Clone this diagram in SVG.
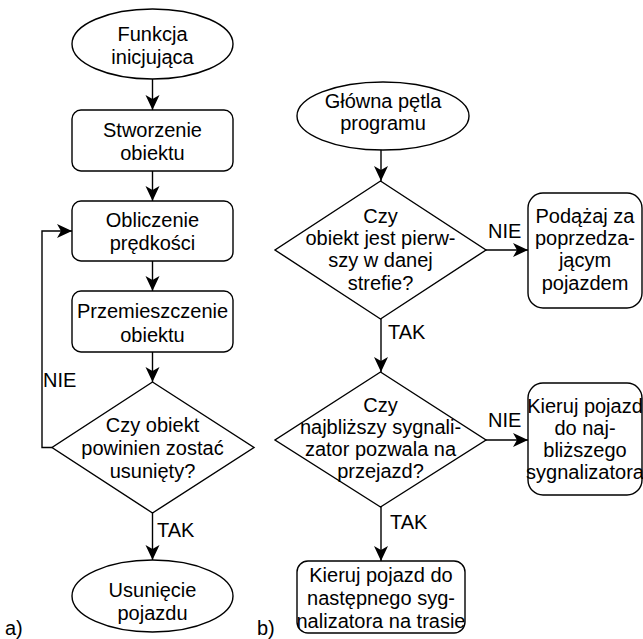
<svg xmlns="http://www.w3.org/2000/svg" width="643" height="639" viewBox="0 0 643 639">
<defs>
<style>
.s{fill:#fff;stroke:#000;stroke-width:1.4}
.c{fill:none;stroke:#000;stroke-width:1.4}
text{font-family:"Liberation Sans",Arial,sans-serif;font-size:20px;fill:#000}
.m{text-anchor:middle}
</style>
<marker id="a" markerUnits="userSpaceOnUse" markerWidth="16" markerHeight="16" refX="15" refY="7" orient="auto" viewBox="0 0 16 14">
<path d="M0,0 L15,7 L0,14 L4,7 Z" fill="#000"/>
</marker>
</defs>
<rect width="643" height="639" fill="#fff"/>
<g id="connectors">
<path class="c" d="M152.5,79 V110" marker-end="url(#a)"/>
<path class="c" d="M152.5,171 V201" marker-end="url(#a)"/>
<path class="c" d="M152.5,261 V291" marker-end="url(#a)"/>
<path class="c" d="M152.5,352 V382" marker-end="url(#a)"/>
<path class="c" d="M152.5,513 V560" marker-end="url(#a)"/>
<path class="c" d="M52,447.5 H42 V231 H72" marker-end="url(#a)"/>
<path class="c" d="M381,150 V181" marker-end="url(#a)"/>
<path class="c" d="M486,250 H528" marker-end="url(#a)"/>
<path class="c" d="M381,319 V372" marker-end="url(#a)"/>
<path class="c" d="M486,440 H528" marker-end="url(#a)"/>
<path class="c" d="M381,507 V561" marker-end="url(#a)"/>
<text x="43" y="387">NIE</text>
<text x="157" y="537">TAK</text>
<text x="488" y="238">NIE</text>
<text x="388" y="339">TAK</text>
<text x="488" y="427">NIE</text>
<text x="390" y="529">TAK</text>
</g>
<g id="start_a">
<ellipse class="s" cx="152.5" cy="44" rx="80.5" ry="35"/>
<text class="m" x="152.5" y="41">Funkcja</text>
<text class="m" x="152.5" y="64">inicjująca</text>
</g>
<g id="create">
<rect class="s" x="72" y="110" width="161" height="61" rx="9"/>
<text class="m" x="152.5" y="137">Stworzenie</text>
<text class="m" x="152.5" y="160">obiektu</text>
</g>
<g id="speed">
<rect class="s" x="72" y="201" width="161" height="60" rx="9"/>
<text class="m" x="152.5" y="227">Obliczenie</text>
<text class="m" x="152.5" y="250">prędkości</text>
</g>
<g id="move">
<rect class="s" x="72" y="291" width="161" height="61" rx="9"/>
<text class="m" x="152.5" y="318">Przemieszczenie</text>
<text class="m" x="152.5" y="342">obiektu</text>
</g>
<g id="decide_a">
<path class="s" d="M152.5,382 L254,447.5 L152.5,513 L52,447.5 Z"/>
<text class="m" x="152.5" y="432">Czy obiekt</text>
<text class="m" x="152.5" y="455">powinien zostać</text>
<text class="m" x="152.5" y="478">usunięty?</text>
</g>
<g id="end_a">
<ellipse class="s" cx="152.5" cy="596" rx="80.5" ry="36"/>
<text class="m" x="152.5" y="597">Usunięcie</text>
<text class="m" x="152.5" y="620">pojazdu</text>
</g>
<g id="start_b">
<ellipse class="s" cx="383" cy="116" rx="86" ry="34"/>
<text class="m" x="383" y="108">Główna pętla</text>
<text class="m" x="383" y="130">programu</text>
</g>
<g id="decide_b1">
<path class="s" d="M380.5,181 L486,250 L380.5,319 L275,250 Z"/>
<text class="m" x="380.5" y="223">Czy</text>
<text class="m" x="380.5" y="245">obiekt jest pierw-</text>
<text class="m" x="380.5" y="267">szy w danej</text>
<text class="m" x="380.5" y="290">strefie?</text>
</g>
<g id="follow">
<rect class="s" x="528" y="193" width="114" height="115" rx="15"/>
<text class="m" x="585" y="223">Podążaj za</text>
<text class="m" x="585" y="245">poprzedza-</text>
<text class="m" x="585" y="267">jącym</text>
<text class="m" x="585" y="290">pojazdem</text>
</g>
<g id="decide_b2">
<path class="s" d="M380.5,372 L486,440 L380.5,507 L275,440 Z"/>
<text class="m" x="380.5" y="412">Czy</text>
<text class="m" x="380.5" y="434">najbliższy sygnali-</text>
<text class="m" x="380.5" y="456">zator pozwala na</text>
<text class="m" x="380.5" y="478">przejazd?</text>
</g>
<g id="nearest">
<rect class="s" x="528" y="383" width="114" height="112" rx="15"/>
<text class="m" x="585" y="413">Kieruj pojazd</text>
<text class="m" x="585" y="435">do naj-</text>
<text class="m" x="585" y="457">bliższego</text>
<text class="m" x="585" y="479">sygnalizatora</text>
</g>
<g id="next">
<rect class="s" x="297" y="561" width="168" height="72" rx="11"/>
<text class="m" x="381" y="582">Kieruj pojazd do</text>
<text class="m" x="381" y="605">następnego syg-</text>
<text class="m" x="381" y="628">nalizatora na trasie</text>
</g>
<g id="labels">
<text x="5" y="635">a)</text>
<text x="257" y="635">b)</text>
</g>
</svg>
